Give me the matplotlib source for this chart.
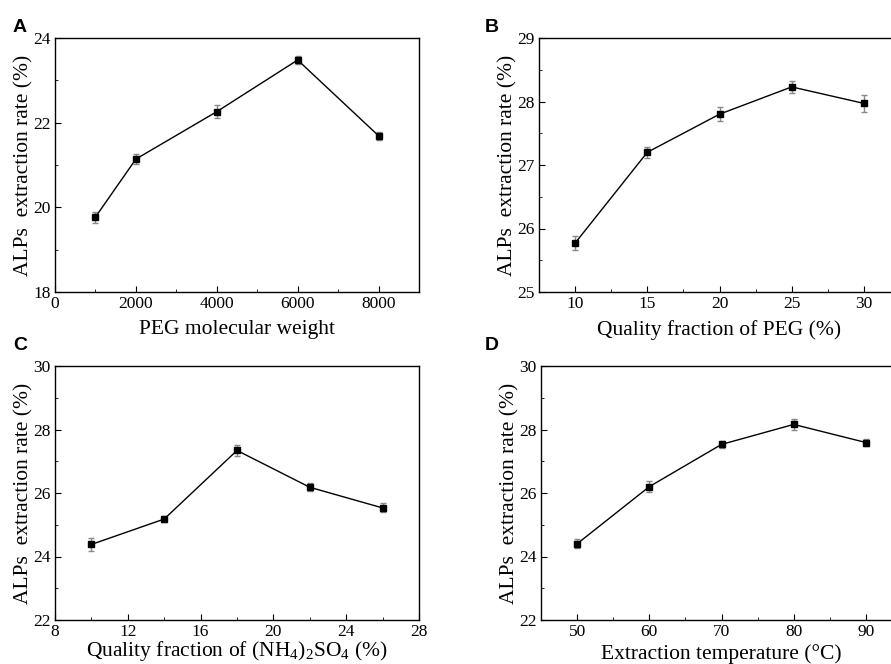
import matplotlib
matplotlib.use("Agg")
import matplotlib.pyplot as plt
from matplotlib.ticker import MultipleLocator

plt.rcParams['font.family'] = ['Liberation Serif', 'DejaVu Serif']
plt.rcParams['mathtext.fontset'] = 'custom'
plt.rcParams['mathtext.rm'] = 'Liberation Serif'
plt.rcParams['mathtext.it'] = 'Liberation Serif'

# panel A: PEG molecular weight
peg_mw = [1000, 2000, 4000, 6000, 8000]
rate_a = [19.77, 21.14, 22.26, 23.48, 21.69]
err_a = [0.13, 0.12, 0.16, 0.09, 0.10]

# panel B: quality fraction of PEG
peg_frac = [10, 15, 20, 25, 30]
rate_b = [25.77, 27.20, 27.80, 28.23, 27.97]
err_b = [0.11, 0.09, 0.11, 0.10, 0.13]

# panel C: quality fraction of (NH4)2SO4
salt_frac = [10, 14, 18, 22, 26]
rate_c = [24.38, 25.18, 27.34, 26.18, 25.53]
err_c = [0.20, 0.10, 0.18, 0.12, 0.14]

# panel D: extraction temperature
temps = [50, 60, 70, 80, 90]
rate_d = [24.40, 26.20, 27.53, 28.16, 27.59]
err_d = [0.14, 0.17, 0.12, 0.18, 0.12]

W, H = 891.0, 664.0
fig = plt.figure(figsize=(W / 100, H / 100), dpi=100)

def make_ax(left, top, right, bottom):
    return fig.add_axes([left / W, 1 - bottom / H, (right - left) / W, (bottom - top) / H])

panels = [
    (make_ax(55, 38, 419, 292), peg_mw, rate_a, err_a, (0, 9000), (18, 24), 2000, 1000, 2, 1,
     "PEG molecular weight", 6, "A", (13, 27)),
    (make_ax(539, 38, 900, 292), peg_frac, rate_b, err_b, (7.5, 32.5), (25, 29), 5, 2.5, 1, 0.5,
     "Quality fraction of PEG (%)", 6, "B", (485, 27)),
    (make_ax(55, 366, 419, 620), salt_frac, rate_c, err_c, (8, 28), (22, 30), 4, 2, 2, 1,
     "Quality fraction of (NH$_4$)$_2$SO$_4$ (%)", -1, "C", (13, 345)),
    (make_ax(541, 366, 902, 620), temps, rate_d, err_d, (45, 95), (22, 30), 10, 5, 2, 1,
     "Extraction temperature (\u00b0C)", 3, "D", (485, 345)),
]

for ax, x, y, e, xl, yl, xmaj, xmin, ymaj, ymin, xlabel, xpad, letter, pos in panels:
    ax.errorbar(x, y, yerr=e, fmt='none', ecolor='#888888', elinewidth=1, capsize=2.5, capthick=1, zorder=2)
    ax.plot(x, y, color='black', linewidth=1, marker='s', markersize=4.8, zorder=3)
    ax.set_xlim(*xl)
    ax.set_ylim(*yl)
    ax.xaxis.set_major_locator(MultipleLocator(xmaj))
    ax.xaxis.set_minor_locator(MultipleLocator(xmin))
    ax.yaxis.set_major_locator(MultipleLocator(ymaj))
    ax.yaxis.set_minor_locator(MultipleLocator(ymin))
    ax.tick_params(which='both', direction='in', labelsize=12.5, pad=3)
    ax.tick_params(which='major', length=4)
    ax.tick_params(which='minor', length=2.5)
    for s in ax.spines.values():
        s.set_linewidth(1)
    ax.set_xlabel(xlabel, fontsize=15.5, labelpad=xpad)
    ax.set_ylabel("ALPs  extraction rate (%)", fontsize=15.5, labelpad=0)
    fig.text(pos[0] / W, 1 - pos[1] / H, letter, fontsize=14, fontweight='bold',
             family='Liberation Sans', ha='left', va='center')

fig.savefig("out.png", dpi=100)
